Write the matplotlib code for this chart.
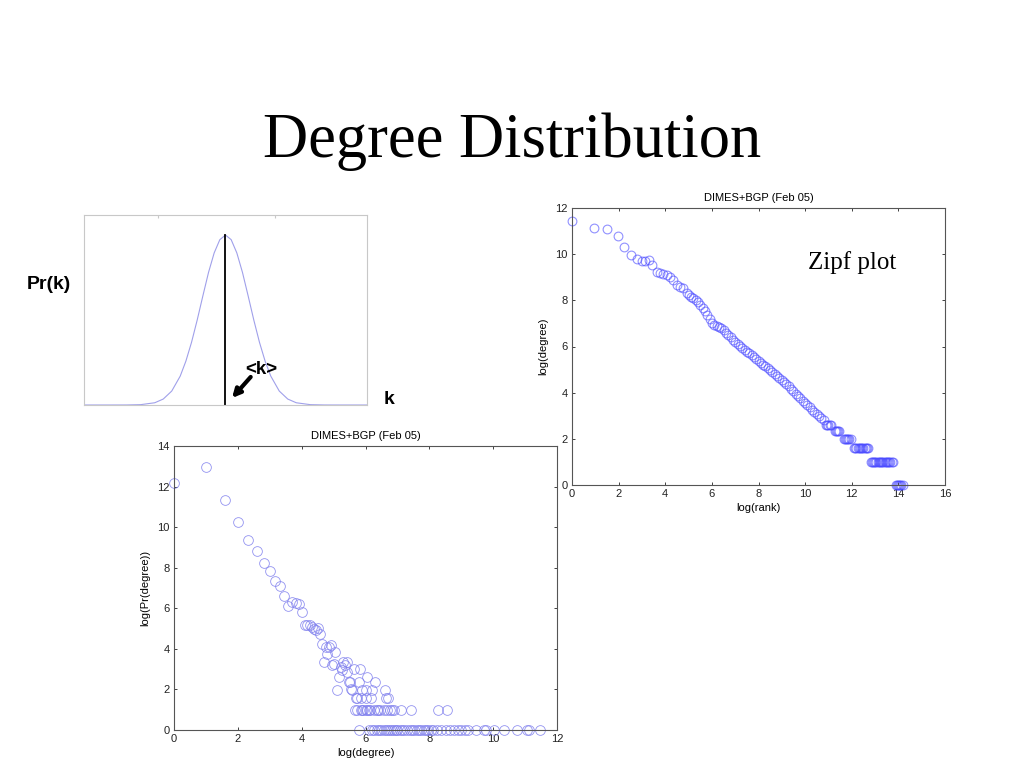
import matplotlib
matplotlib.use("Agg")
import matplotlib.pyplot as plt
import numpy as np

plt.rcParams['font.family'] = ['Liberation Sans', 'DejaVu Sans']

# ---------------- data ----------------
# Schematic bell curve (left panel)
bell_k = [0, 10, 15, 20, 25, 28, 31, 34, 36, 38, 40, 42, 44, 46, 48, 50,
          52, 54, 56, 58, 60, 62, 64, 66, 69, 72, 75, 80, 85, 90, 100]
bell_pr = [0, 0, 0.0002, 0.002, 0.0132, 0.035, 0.082, 0.170, 0.258, 0.369, 0.500,
           0.642, 0.780, 0.895, 0.973, 1.0, 0.973, 0.895, 0.780, 0.642, 0.500,
           0.369, 0.258, 0.170, 0.082, 0.035, 0.0132, 0.002, 0.0002, 0, 0]
mean_k = 49.8
mean_pr = 1.0

# Degree distribution (bottom panel): log(degree), log(Pr(degree))
deg_upper = [0, 1.0, 1.585, 2.0, 2.32, 2.585, 2.807, 3.0, 3.17, 3.32, 3.46, 3.585,
             3.70, 3.81, 3.91, 4.0, 4.09, 4.17, 4.25, 4.33, 4.39, 4.46, 4.52, 4.57,
             4.65, 4.70, 4.75, 4.80, 4.86, 4.91, 4.96, 5.0, 5.06, 5.11, 5.17, 5.22,
             5.27, 5.30, 5.36, 5.41, 5.43, 5.48, 5.52, 5.55, 5.59, 5.64, 5.69, 5.74,
             5.79, 5.83, 5.87, 5.90, 6.0, 6.03, 6.06, 6.16, 6.19, 6.30, 6.60, 6.63, 6.70]
pr_upper = [12.2, 12.95, 11.33, 10.23, 9.37, 8.81, 8.24, 7.86, 7.36, 7.12, 6.61, 6.10,
            6.31, 6.28, 6.19, 5.82, 5.16, 5.19, 5.16, 5.08, 5.0, 4.95, 5.03, 4.75,
            4.26, 3.35, 4.10, 3.76, 4.09, 4.21, 3.19, 3.25, 3.84, 1.98, 2.61, 3.10,
            2.94, 3.35, 3.20, 3.35, 2.85, 2.36, 2.36, 2.0, 1.98, 3.02, 1.58, 1.58,
            2.36, 3.02, 1.58, 1.98, 1.58, 1.98, 2.61, 1.58, 1.98, 2.36, 1.98, 1.58, 1.58]
deg_row1 = [5.66, 5.74, 5.85, 5.90, 5.93, 6.03, 6.06, 6.11, 6.14, 6.26, 6.37, 6.39,
            6.45, 6.58, 6.68, 6.77, 6.84, 6.89, 7.10, 7.44, 8.27, 8.54]
pr_row1 = [1.0] * len(deg_row1)
deg_row0 = [5.79, 6.12, 6.20, 6.28, 6.35, 6.42, 6.50, 6.57, 6.64, 6.70, 6.76, 6.82,
            6.88, 6.95, 7.00, 7.08, 7.15, 7.22, 7.30, 7.38, 7.45, 7.52, 7.60, 7.68,
            7.75, 7.82, 7.90, 7.97, 8.05, 8.12, 8.25, 8.38, 8.51, 8.66, 8.77, 8.90,
            8.98, 9.13, 9.20, 9.45, 9.71, 9.78, 10.02, 10.33, 10.75, 11.07, 11.12, 11.48]
pr_row0 = [0.0] * len(deg_row0)

# Zipf plot (top-right panel): log(rank), log(degree)
rank_head = [0, 0.94, 1.49, 1.96, 2.24, 2.53, 2.77, 2.99, 3.13, 3.32, 3.42, 3.63, 3.78,
             3.92, 4.06, 4.20, 4.35, 4.49, 4.63, 4.78, 4.92]
deg_head = [11.45, 11.15, 11.08, 10.79, 10.30, 9.97, 9.81, 9.71, 9.71, 9.75, 9.53, 9.24,
            9.20, 9.14, 9.10, 9.00, 8.88, 8.67, 8.57, 8.52, 8.33]
rank_body = [5.0, 5.1, 5.2, 5.3, 5.4, 5.5, 5.6, 5.7, 5.8, 5.9, 6.0, 6.1, 6.2, 6.3, 6.4,
             6.5, 6.6, 6.7, 6.8, 6.9, 7.0, 7.1, 7.2, 7.3, 7.4, 7.5, 7.6, 7.7, 7.8, 7.9,
             8.0, 8.1, 8.2, 8.3, 8.4, 8.5, 8.6, 8.7, 8.8, 8.9, 9.0, 9.1, 9.2, 9.3, 9.4,
             9.5, 9.6, 9.7, 9.8, 9.9, 10.0, 10.1, 10.2, 10.3, 10.4, 10.5, 10.6, 10.7, 10.8]
deg_body = [8.22, 8.16, 8.08, 8.00, 7.92, 7.78, 7.66, 7.52, 7.38, 7.18, 7.02, 6.94, 6.88,
            6.83, 6.78, 6.70, 6.60, 6.50, 6.40, 6.30, 6.20, 6.11, 6.02, 5.94, 5.86, 5.78,
            5.70, 5.62, 5.55, 5.46, 5.38, 5.30, 5.22, 5.14, 5.06, 4.98, 4.90, 4.82, 4.73,
            4.64, 4.56, 4.47, 4.38, 4.28, 4.17, 4.06, 3.95, 3.85, 3.75, 3.66, 3.56, 3.46,
            3.36, 3.27, 3.17, 3.08, 3.00, 2.90, 2.81]
rank_tail = [10.90, 10.95, 11.00, 11.05, 11.10,
             11.28, 11.33, 11.38, 11.43, 11.47,
             11.65, 11.70, 11.75, 11.80, 11.85, 11.90, 11.95,
             12.10, 12.15, 12.20, 12.25, 12.30, 12.35, 12.40, 12.45, 12.50, 12.55, 12.60, 12.65, 12.69,
             12.81, 12.86, 12.91, 12.96, 13.01, 13.06, 13.11, 13.16, 13.21, 13.26, 13.31, 13.36,
             13.41, 13.46, 13.51, 13.56, 13.61, 13.66, 13.71, 13.76,
             13.88, 13.93, 13.98, 14.03, 14.08, 14.13, 14.19]
deg_tail = [2.585] * 5 + [2.32] * 5 + [2.0] * 7 + [1.585] * 13 + [1.0] * 20 + [0.0] * 7

title_text = "Degree Distribution"
panel_title = "DIMES+BGP (Feb 05)"

# ---------------- figure ----------------
W, H = 1024, 768
fig = plt.figure(figsize=(W / 100, H / 100), dpi=100)


def ax_rect(x0, y0, x1, y1):
    return [x0 / W, 1 - y1 / H, (x1 - x0) / W, (y1 - y0) / H]


fig.text(0.5, 1 - 157 / H, title_text, ha='center', va='baseline',
         fontsize=45, family=['Liberation Serif', 'DejaVu Serif'])

# ----- left schematic -----
ax0 = fig.add_axes(ax_rect(84, 215, 367, 405))
ax0.plot(bell_k, bell_pr, color='#a0a0ea', lw=0.8)
ax0.plot([mean_k, mean_k], [0, mean_pr], color='black', lw=1.3)
ax0.set_xlim(0, 100)
ax0.set_ylim(0, 1.118)
for s in ax0.spines.values():
    s.set_color('#c8c8c8')
    s.set_linewidth(0.8)
ax0.set_yticks([])
ax0.set_xticks([26.1, 67.5])
ax0.tick_params(axis='x', top=True, bottom=False, labelbottom=False,
                direction='in', length=2, color='#c8c8c8')
ax0.annotate('', xy=(52.3, 0.041), xytext=(58.9, 0.165),
             arrowprops=dict(arrowstyle='-|>', lw=3, color='black', mutation_scale=12,
                             shrinkA=0, shrinkB=0))
fig.text(261 / W, 1 - 369 / H, '<k>', ha='center', va='center',
         fontsize=13.5, fontweight='bold')
fig.text(49 / W, 1 - 284 / H, 'Pr(k)', ha='center', va='center',
         fontsize=14, fontweight='bold')
fig.text(389 / W, 1 - 399 / H, 'k', ha='center', va='center',
         fontsize=14, fontweight='bold')


def style_axes(ax):
    for s in ax.spines.values():
        s.set_color('#555555')
        s.set_linewidth(0.8)
    ax.tick_params(direction='in', length=2.5, width=0.6, top=True, right=True,
                   labelsize=8, pad=3, colors='#222222')


mk = dict(marker='o', linestyle='none', markerfacecolor='none')

# ----- bottom degree distribution -----
ax1 = fig.add_axes(ax_rect(174, 446, 557, 730))
for xs, ys in [(deg_upper, pr_upper), (deg_row1, pr_row1), (deg_row0, pr_row0)]:
    ax1.plot(xs, ys, markersize=7, markeredgecolor='#8080ee',
             markeredgewidth=0.6, alpha=0.85, clip_on=False, **mk)
ax1.set_xlim(0, 12)
ax1.set_ylim(0, 14)
ax1.set_xticks(range(0, 13, 2))
ax1.set_yticks(range(0, 15, 2))
style_axes(ax1)
ax1.set_title(panel_title, fontsize=8, pad=5)
ax1.set_xlabel('log(degree)', fontsize=8, labelpad=3)
ax1.set_ylabel('log(Pr(degree))', fontsize=8, labelpad=5)

# ----- top-right Zipf plot -----
ax2 = fig.add_axes(ax_rect(572, 208, 945, 485))
for xs, ys in [(rank_head, deg_head), (rank_body, deg_body), (rank_tail, deg_tail)]:
    ax2.plot(xs, ys, markersize=6.3, markeredgecolor='#4848ff',
             markeredgewidth=0.8, alpha=0.6, clip_on=False, **mk)
ax2.set_xlim(0, 16)
ax2.set_ylim(0, 12)
ax2.set_xticks(range(0, 17, 2))
ax2.set_yticks(range(0, 13, 2))
style_axes(ax2)
ax2.set_title(panel_title, fontsize=8, pad=5)
ax2.set_xlabel('log(rank)', fontsize=8, labelpad=3)
ax2.set_ylabel('log(degree)', fontsize=8, labelpad=5)
ax2.text(10.12, 9.62, 'Zipf plot', ha='left', va='center', fontsize=18,
         family=['Liberation Serif', 'DejaVu Serif'])

fig.savefig('out.png', dpi=100)
